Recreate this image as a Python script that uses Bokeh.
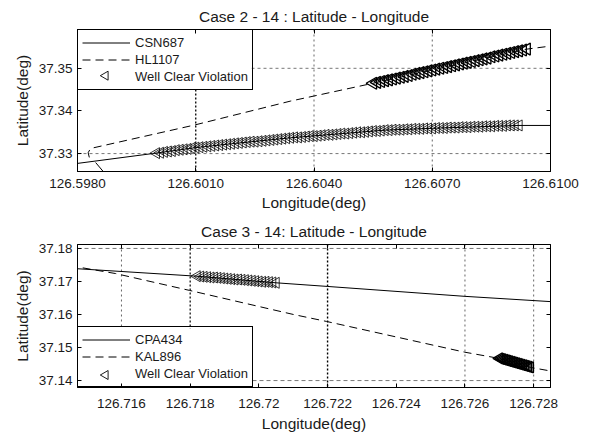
import numpy as np
from bokeh.plotting import figure
from bokeh.models import Range1d, FixedTicker, LinearAxis, Span
from bokeh.layouts import column
from bokeh.embed import file_html
from bokeh.resources import INLINE

# ---------------- data ----------------
top_title = "Case 2 - 14 : Latitude - Longitude"
bot_title = "Case 3 - 14: Latitude - Longitude"
x_label = "Longitude(deg)"
y_label = "Latitude(deg)"
wcv_label = "Well Clear Violation"

top_xticks = [126.598, 126.601, 126.604, 126.607, 126.610]
top_xtick_labels = ["126.5980", "126.6010", "126.6040", "126.6070", "126.6100"]
top_yticks = [37.33, 37.34, 37.35]
top_ytick_labels = ["37.33", "37.34", "37.35"]
top_vgrid = [126.601, 126.604, 126.607]
top_hgrid = [37.33, 37.35]

bot_xticks = [126.716, 126.718, 126.720, 126.722, 126.724, 126.726, 126.728]
bot_xtick_labels = ["126.716", "126.718", "126.72", "126.722", "126.724", "126.726", "126.728"]
bot_yticks = [37.14, 37.15, 37.16, 37.17, 37.18]
bot_ytick_labels = ["37.14", "37.15", "37.16", "37.17", "37.18"]
bot_vgrid = [126.716, 126.718, 126.722, 126.726, 126.728]
bot_hgrid = [37.14, 37.18]

# Case 2 tracks
csn_lon = [126.5980, 126.5999, 126.6010, 126.6019, 126.6034, 126.6058, 126.6072, 126.6092, 126.6105]
csn_lat = [37.3277, 37.3300, 37.3314, 37.3323, 37.3337, 37.3355, 37.3360, 37.3366, 37.3366]
csn_tail_lon = [126.59846, 126.59868]
csn_tail_lat = [37.3279, 37.3255]
hl_lon = [126.59830, 126.59827, 126.59833, 126.60097, 126.60340, 126.6055, 126.6094, 126.6105]
hl_lat = [37.3291, 37.3302, 37.3312, 37.3367, 37.3423, 37.3465, 37.3545, 37.3558]

csn_wcv_lon = [126.6000, 126.6001, 126.6002, 126.6003, 126.6004, 126.6005, 126.6006, 126.6007, 126.6008, 126.6009,
               126.6010, 126.6011, 126.6012, 126.6013, 126.6014, 126.6015, 126.6016, 126.6017, 126.6018, 126.6019,
               126.6020, 126.6021, 126.6022, 126.6023, 126.6024, 126.6025, 126.6026, 126.6027, 126.6028, 126.6029,
               126.6030, 126.6031, 126.6032, 126.6033, 126.6034, 126.6035, 126.6036, 126.6037, 126.6038, 126.6039,
               126.6040, 126.6041, 126.6042, 126.6043, 126.6044, 126.6045, 126.6046, 126.6047, 126.6048, 126.6049,
               126.6050, 126.6051, 126.6052, 126.6053, 126.6054, 126.6055, 126.6056, 126.6057, 126.6058, 126.6059,
               126.6060, 126.6061, 126.6062, 126.6063, 126.6064, 126.6065, 126.6066, 126.6067, 126.6068, 126.6069,
               126.6070, 126.6071, 126.6072, 126.6073, 126.6074, 126.6075, 126.6076, 126.6077, 126.6078, 126.6079,
               126.6080, 126.6081, 126.6082, 126.6083, 126.6084, 126.6085, 126.6086, 126.6087, 126.6088, 126.6089,
               126.6090, 126.6091, 126.6092]
csn_wcv_lat = [37.3301, 37.3302, 37.3304, 37.3305, 37.3306, 37.3308, 37.3309, 37.3310, 37.3311, 37.3313,
               37.3314, 37.3315, 37.3316, 37.3317, 37.3318, 37.3319, 37.3320, 37.3321, 37.3322, 37.3323,
               37.3324, 37.3325, 37.3326, 37.3327, 37.3328, 37.3328, 37.3329, 37.3330, 37.3331, 37.3332,
               37.3333, 37.3334, 37.3335, 37.3336, 37.3337, 37.3338, 37.3338, 37.3339, 37.3340, 37.3341,
               37.3341, 37.3342, 37.3343, 37.3344, 37.3344, 37.3345, 37.3346, 37.3347, 37.3347, 37.3348,
               37.3349, 37.3350, 37.3350, 37.3351, 37.3352, 37.3353, 37.3353, 37.3354, 37.3355, 37.3355,
               37.3356, 37.3356, 37.3356, 37.3357, 37.3357, 37.3358, 37.3358, 37.3358, 37.3359, 37.3359,
               37.3359, 37.3360, 37.3360, 37.3360, 37.3361, 37.3361, 37.3361, 37.3362, 37.3362, 37.3362,
               37.3363, 37.3363, 37.3363, 37.3364, 37.3364, 37.3364, 37.3365, 37.3365, 37.3365, 37.3366,
               37.3366, 37.3366, 37.3366]

hl_wcv_lon = [126.6055, 126.6056, 126.6057, 126.6058, 126.6059, 126.6060, 126.6061, 126.6062, 126.6063, 126.6064,
              126.6065, 126.6066, 126.6067, 126.6068, 126.6069, 126.6070, 126.6071, 126.6072, 126.6073, 126.6074,
              126.6075, 126.6076, 126.6077, 126.6078, 126.6079, 126.6080, 126.6081, 126.6082, 126.6083, 126.6084,
              126.6085, 126.6086, 126.6087, 126.6088, 126.6089, 126.6090, 126.6091, 126.6092, 126.6093, 126.6094]
hl_wcv_lat = [37.3465, 37.3467, 37.3469, 37.3471, 37.3473, 37.3475, 37.3477, 37.3479, 37.3481, 37.3483,
              37.3486, 37.3488, 37.3490, 37.3492, 37.3494, 37.3496, 37.3498, 37.3500, 37.3502, 37.3504,
              37.3506, 37.3508, 37.3510, 37.3512, 37.3514, 37.3516, 37.3518, 37.3520, 37.3522, 37.3524,
              37.3527, 37.3529, 37.3531, 37.3533, 37.3535, 37.3537, 37.3539, 37.3541, 37.3543, 37.3545]

# Case 3 tracks
cpa_lon = [126.7145, 126.7182, 126.7205, 126.7220, 126.7260, 126.7285, 126.7290]
cpa_lat = [37.1740, 37.1716, 37.1696, 37.1685, 37.1655, 37.1639, 37.1637]
kal_lon = [126.7145, 126.71583, 126.71798, 126.72101, 126.72197, 126.72599, 126.7270, 126.7279, 126.72849, 126.7290]
kal_lat = [37.1748, 37.1724, 37.1673, 37.1600, 37.1579, 37.1486, 37.1467, 37.1440, 37.1429, 37.1427]

cpa_wcv_lon = [126.7182, 126.7183, 126.7184, 126.7185, 126.7186, 126.7187, 126.7188, 126.7189, 126.7190, 126.7191,
               126.7192, 126.7193, 126.7194, 126.7195, 126.7196, 126.7197, 126.7198, 126.7199, 126.7200, 126.7201,
               126.7202, 126.7203, 126.7204, 126.7205]
cpa_wcv_lat = [37.1716, 37.1715, 37.1714, 37.1713, 37.1712, 37.1712, 37.1711, 37.1710, 37.1709, 37.1708,
               37.1707, 37.1706, 37.1706, 37.1705, 37.1704, 37.1703, 37.1702, 37.1701, 37.1700, 37.1699,
               37.1699, 37.1698, 37.1697, 37.1696]
kal_wcv_lon = [126.72700, 126.72705, 126.72710, 126.72715, 126.72720, 126.72725, 126.72730, 126.72735, 126.72740,
               126.72745, 126.72750, 126.72755, 126.72760, 126.72765, 126.72770, 126.72775, 126.72780, 126.72785,
               126.72790]
kal_wcv_lat = [37.14670, 37.14655, 37.14640, 37.14625, 37.14610, 37.14595, 37.14580, 37.14565, 37.14550,
               37.14535, 37.14520, 37.14505, 37.14490, 37.14475, 37.14460, 37.14445, 37.14430, 37.14415,
               37.14400]

top_xr = (126.5980, 126.6100)
top_yr = (37.3258, 37.3591)
bot_xr = (126.71472, 126.72849)
bot_yr = (37.1379, 37.1812)

FONT = "Liberation Sans"
TXT = "#1a1a1a"
FRAME_W = 473
FRAME_H = 143
LG_PAD, LG_GW, LG_ROW = 4, 48, 17
LG_W = 174
LG_H = 2 * LG_PAD + 3 * LG_ROW


def style_axis(ax, ticks, labels=None):
    ax.ticker = FixedTicker(ticks=ticks)
    ax.major_tick_in = 4
    ax.major_tick_out = 0
    ax.major_tick_line_color = "black"
    ax.minor_tick_line_color = None
    ax.axis_line_color = "black"
    if labels is None:
        ax.major_label_text_font_size = "1px"
        ax.major_label_text_color = None
        ax.major_label_standoff = 0
    else:
        ax.major_label_overrides = {t: l for t, l in zip(ticks, labels)}
        ax.major_label_text_font = FONT
        ax.major_label_text_font_size = "13.5px"
        ax.major_label_text_color = TXT
        ax.axis_label_text_font = FONT
        ax.axis_label_text_font_size = "15.5px"
        ax.axis_label_text_font_style = "normal"
        ax.axis_label_text_color = TXT


def make_fig(title, height, xr, yr, btop, bbot, xticks, xlabels, yticks, ylabels, xls, xas):
    p = figure(width=589, height=height, x_range=Range1d(*xr), y_range=Range1d(*yr),
               output_backend="svg", toolbar_location=None,
               min_border_left=77, min_border_right=39, min_border_top=btop, min_border_bottom=bbot,
               title=title)
    p.title.text_font = FONT
    p.title.text_font_size = "15.5px"
    p.title.text_font_style = "normal"
    p.title.text_color = TXT
    p.title.align = "center"
    p.xgrid.visible = False
    p.ygrid.visible = False
    p.outline_line_color = "black"
    p.outline_line_alpha = 1
    p.outline_line_width = 1
    style_axis(p.xaxis[0], xticks, xlabels)
    style_axis(p.yaxis[0], yticks, ylabels)
    p.xaxis[0].axis_label = x_label
    p.yaxis[0].axis_label = y_label
    p.xaxis[0].major_label_standoff = xls
    p.xaxis[0].axis_label_standoff = xas
    p.yaxis[0].major_label_standoff = 5
    p.yaxis[0].axis_label_standoff = 5
    top_ax = LinearAxis()
    style_axis(top_ax, xticks)
    p.add_layout(top_ax, "above")
    right_ax = LinearAxis()
    style_axis(right_ax, yticks)
    p.add_layout(right_ax, "right")
    return p


def add_grid(p, vlist, hlist, vstyles, hstyle):
    for loc, (col, dash, w) in zip(vlist, vstyles):
        p.add_layout(Span(location=loc, dimension="height", line_color=col, line_dash=dash,
                          line_width=w, level="underlay"))
    for loc in hlist:
        col, dash, w = hstyle
        p.add_layout(Span(location=loc, dimension="width", line_color=col, line_dash=dash,
                          line_width=w, level="underlay"))


def legend_backdrop(p, xr, yr, at_top):
    # white box behind the (transparent) legend so that grid lines do not show through,
    # plus the left-pointing triangle symbol of its third row
    dx, dy = xr[1] - xr[0], yr[1] - yr[0]
    left, right = xr[0], xr[0] + LG_W / FRAME_W * dx
    if at_top:
        top, bottom = yr[1], yr[1] - LG_H / FRAME_H * dy
        fy = 1 - (LG_PAD + 2.5 * LG_ROW) / FRAME_H
    else:
        top, bottom = yr[0] + LG_H / FRAME_H * dy, yr[0]
        fy = (LG_PAD + 0.5 * LG_ROW) / FRAME_H
    p.quad(left=[left], right=[right], top=[top], bottom=[bottom], fill_color="white",
           line_color=None)
    sx = xr[0] + (LG_PAD + LG_GW / 2) / FRAME_W * dx
    sy = yr[0] + fy * dy
    p.scatter([sx], [sy], marker="triangle", angle=np.pi / 2, size=9, fill_color=None,
              line_color="black", line_width=0.9)


def style_legend(p, loc):
    lg = p.legend[0]
    lg.location = loc
    lg.margin = 0
    lg.padding = LG_PAD
    lg.spacing = 0
    lg.glyph_width = LG_GW
    lg.glyph_height = LG_ROW
    lg.label_height = LG_ROW
    lg.label_standoff = 5
    lg.label_text_font = FONT
    lg.label_text_font_size = "13px"
    lg.label_text_color = TXT
    lg.border_line_color = "black"
    lg.border_line_width = 1
    lg.border_line_alpha = 1
    lg.background_fill_alpha = 0


MK = dict(marker="triangle", angle=np.pi / 2, fill_color=None, line_color="black")

# ---------------- top ----------------
p1 = make_fig(top_title, 215, top_xr, top_yr, 28, 44,
              top_xticks, top_xtick_labels, top_yticks, top_ytick_labels, 7, 3)
add_grid(p1, top_vgrid, top_hgrid,
         [("black", "2 2", 1.3), ("#666666", "2 3", 1), ("#666666", "2 3", 1)],
         ("#777777", "3 3", 1))
legend_backdrop(p1, top_xr, top_yr, True)
p1.line(csn_lon, csn_lat, line_color="black", line_width=1, legend_label="CSN687")
p1.line(csn_tail_lon, csn_tail_lat, line_color="black", line_width=1)
p1.line(hl_lon, hl_lat, line_color="black", line_width=1, line_dash="8 5", legend_label="HL1107")
p1.scatter([csn_wcv_lon[0]], [csn_wcv_lat[0]], marker="triangle", fill_alpha=0, line_alpha=0,
           legend_label=wcv_label)
p1.scatter(csn_wcv_lon, csn_wcv_lat, size=11, line_width=0.8, **MK)
p1.scatter(hl_wcv_lon, hl_wcv_lat, size=12, line_width=1.3, **MK)
style_legend(p1, "top_left")

# ---------------- bottom ----------------
p2 = make_fig(bot_title, 222, bot_xr, bot_yr, 29, 50,
              bot_xticks, bot_xtick_labels, bot_yticks, bot_ytick_labels, 11, 4)
add_grid(p2, bot_vgrid, bot_hgrid,
         [("#666666", "2 3", 1), ("black", "2 2", 1.2), ("black", "2 2", 1.4),
          ("#666666", "2 3", 1), ("#666666", "2 3", 1)],
         ("#777777", "4 3", 1))
legend_backdrop(p2, bot_xr, bot_yr, False)
p2.line(cpa_lon, cpa_lat, line_color="black", line_width=1, legend_label="CPA434")
p2.line(kal_lon, kal_lat, line_color="black", line_width=1, line_dash="8 5", legend_label="KAL896")
p2.scatter([cpa_wcv_lon[0]], [cpa_wcv_lat[0]], marker="triangle", fill_alpha=0, line_alpha=0,
           legend_label=wcv_label)
p2.scatter(cpa_wcv_lon, cpa_wcv_lat, size=11, line_width=0.8, **MK)
p2.scatter(kal_wcv_lon, kal_wcv_lat, size=11, line_width=1.4, **MK)
style_legend(p2, "bottom_left")

layout = column(p1, p2, spacing=0)
open("out.html", "w").write(file_html(layout, INLINE))
